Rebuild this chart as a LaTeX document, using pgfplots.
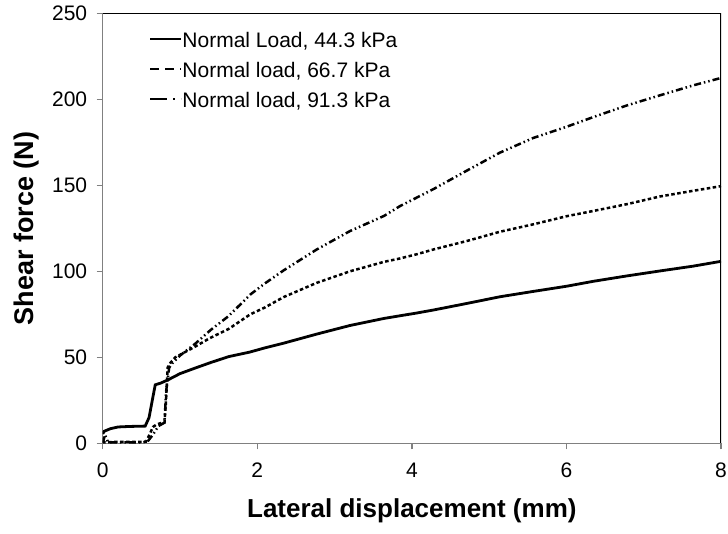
\documentclass[border=0pt]{standalone}
\usepackage{fontspec}
\setmainfont{Liberation Sans}
\usepackage{pgfplots}
\pgfplotsset{compat=1.18}
\begin{document}
\begin{tikzpicture}
\useasboundingbox (0,0) rectangle (728pt,533pt);
\begin{axis}[
  at={(102.7pt,89.7pt)}, anchor=south west,
  scale only axis, width=618.3pt, height=430pt,
  xmin=0, xmax=8, ymin=0, ymax=250,
  xtick={0,2,4,6,8}, ytick={0,50,100,150,200,250},
  axis x line*=bottom, axis y line*=left,
  axis line style={draw=black!50, line width=1.3pt, -},
  tick style={draw=black!50, line width=1.3pt},
  tick align=outside, major tick length=6pt,
  /pgf/number format/assume math mode=true,
  ticklabel style={font=\fontsize{21}{21}\selectfont},
  xticklabel style={yshift=-10pt},
  yticklabel style={xshift=-6pt},
  xlabel={\bfseries Lateral displacement (mm)},
  ylabel={\bfseries Shear force (N)},
  x label style={font=\fontsize{26}{26}\selectfont, at={(axis description cs:0.5,-0.172)}, anchor=base},
  y label style={font=\fontsize{27}{27}\selectfont, at={(axis description cs:-0.124,0.5)}, anchor=center},
  legend style={draw=none, fill=none, inner sep=0pt,
    at={(axis description cs:0.075,0.955)}, anchor=north west,
    font=\fontsize{21}{21}\selectfont, row sep=10pt,
    nodes={inner sep=0pt, text height=15pt, text depth=5pt},
    /tikz/every odd column/.append style={column sep=0pt}},
  legend cell align=left,
  legend image code/.code={\draw[#1] (0pt,4pt) -- (31pt,4pt);},
]
\draw[black, line width=1.2pt] (rel axis cs:0,1) -- (rel axis cs:1,1) -- (rel axis cs:1,0);
\addlegendimage{black, line width=2.2pt}
\addlegendentry{Normal Load, 44.3 kPa}
\addlegendimage{black, line width=2.2pt, dash pattern=on 9pt off 6pt}
\addlegendentry{Normal load, 66.7 kPa}
\addlegendimage{black, line width=2.2pt, dash pattern=on 17pt off 6pt on 2pt off 6pt}
\addlegendentry{Normal load, 91.3 kPa}
% 44.3 kPa
\addplot[black, line width=2.8pt, forget plot] coordinates {
(0,5.5) (0.02,7) (0.1,8.5) (0.2,9.5) (0.35,9.8) (0.55,10) (0.6,15) (0.65,27) (0.68,34)
(0.75,35) (0.85,37) (1.0,40.5) (1.2,43.8) (1.4,47) (1.63,50.4) (1.9,53) (2.1,55.5)
(2.34,58.2) (2.77,63.5) (3.2,68.5) (3.64,72.6) (4.07,75.8) (4.28,77.5) (4.71,81.3)
(5.14,85.2) (5.57,88.3) (6.0,91.3) (6.35,94.2) (6.78,97.3) (7.21,100.2) (7.64,103) (8,105.8)
};
% 66.7 kPa
\addplot[black, line width=2.5pt, dash pattern=on 3.5pt off 2.5pt, forget plot] coordinates {
(0,1.5) (0.03,0.5) (0.15,0.8) (0.5,0.8) (0.56,1) (0.6,4.5) (0.65,9.5) (0.7,11) (0.8,12.4)
(0.82,25) (0.84,44) (0.88,47) (0.94,50) (1.2,56.3) (1.38,61) (1.63,66.5) (1.91,75) (2.1,79)
(2.34,85) (2.77,93.3) (3.2,100) (3.64,105.5) (3.85,107.5) (4.07,110) (4.28,112.7) (4.71,117.6)
(5.14,123) (5.57,127.3) (6,132) (6.35,135.1) (6.78,139) (7.21,143.5) (7.64,146.8) (8,149.5)
};
% 91.3 kPa
\addplot[black, line width=2.5pt, dash pattern=on 7pt off 3pt on 1.5pt off 3pt on 1.5pt off 3pt, forget plot] coordinates {
(0,0) (0.03,5) (0.07,0.5) (0.5,0.5) (0.58,1) (0.65,5) (0.72,10) (0.8,12) (0.82,30) (0.86,44)
(0.9,46.5) (1.0,51) (1.2,58) (1.4,66) (1.63,74) (1.91,86.5) (2.1,93) (2.34,100.5) (2.77,112.7)
(3.2,123.4) (3.64,132.2) (3.85,138) (4.07,143) (4.28,147.8) (4.71,158.5) (5.14,169) (5.57,177.5)
(6.0,184) (6.35,189.7) (6.78,196.4) (7.21,202.3) (7.64,208.1) (8,212.4)
};
\end{axis}
\end{tikzpicture}
\end{document}
